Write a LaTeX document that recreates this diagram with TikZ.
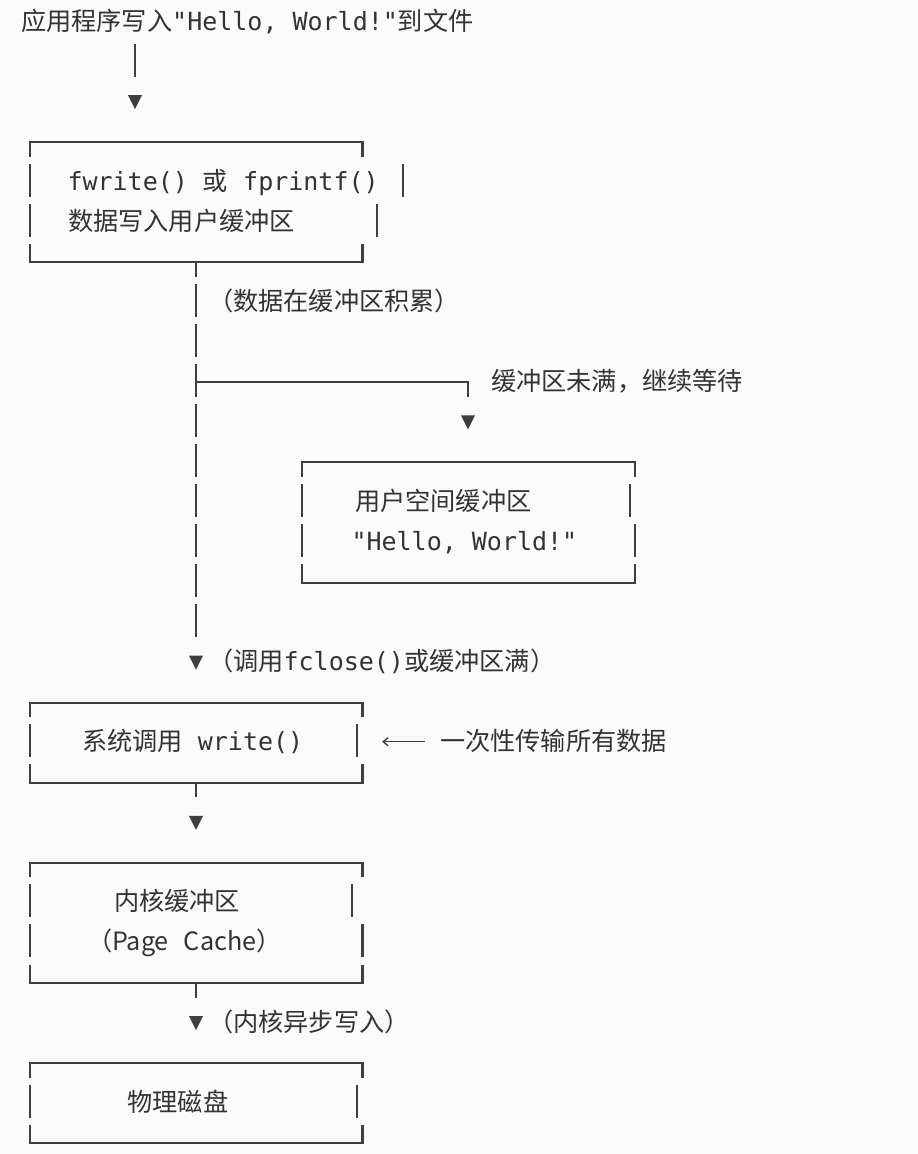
\documentclass[tikz,border=0pt]{standalone}
\usepackage{fontspec}
\setmonofont{DejaVu Sans Mono}
\newfontfamily\cjk{Noto Sans CJK SC}
\usetikzlibrary{arrows.meta}
\definecolor{bgc}{HTML}{FAFAFA}
\definecolor{ink}{HTML}{333333}
\definecolor{linec}{HTML}{3E3E3E}
\newcommand\mono[1]{{\fontsize{25}{30}\selectfont\ttfamily #1}}
\newcommand\zh[1]{{\fontsize{25.2}{30}\selectfont\cjk #1}}
\newcommand\tridown[2]{\fill[linec] ({#1-7},{#2-5.5}) -- ({#1+7},{#2-5.5}) -- (#1,{#2+8.5}) -- cycle;}
\newcommand\rowbar[2]{\draw[frame] (#1,{20.5+40.04*#2-17}) -- (#1,{20.5+40.04*#2+16});}
\begin{document}
\begin{tikzpicture}[x=1pt,y=-1pt,
  frame/.style={draw=linec,line width=2.1pt},
  txt/.style={anchor=base west,inner sep=0pt,outer sep=0pt,text=ink},
  arr/.style={draw=linec,line width=1.4pt,-{Straight Barb[length=5pt,width=8pt,line width=1.4pt]}}]
\fill[bgc] (0,0) rectangle (918,1154);
\useasboundingbox (0,0) rectangle (918,1154);

% title
\node[txt] (title) at (21,30) {\zh{应用程序写入}\mono{"Hello, World!"}\zh{到文件}};
\coordinate (s0a) at (135,43.5);
\coordinate (s0b) at (135,76.5);
\draw[frame] (s0a) -- (s0b);
\tridown{135}{100.6}

% box 1
\draw[frame] (30,156.6) -- (30,142.1) -- (362.5,142.1) -- (362.5,156.6);
\rowbar{30}{4}\rowbar{403}{4}
\rowbar{30}{5}\rowbar{377}{5}
\draw[frame] (30,243.7) -- (30,262.2) -- (362.5,262.2) -- (362.5,243.7);
\node[txt] (b1a) at (67.5,190.2) {\mono{fwrite() }\zh{或}\mono{ fprintf()}};
\node[txt] (b1b) at (68,230.2) {\zh{数据写入用户缓冲区}};
\coordinate (b1out) at (196,262.2);
\coordinate (b1stem) at (196,276.7);
\draw[frame] (b1out) -- (b1stem);

% main stem
\foreach \k in {7,8,10,11,12,13,14,15} {\rowbar{196}{\k}}
\draw[frame] (196,363.86) -- (196,396.86);
\coordinate (branch) at (196,382.36);
\coordinate (branchcorner) at (468,382.36);
\coordinate (branchend) at (468,396.86);
\draw[frame] (branch) -- (branchcorner) -- (branchend);
\tridown{468}{420.9}
\node[txt] (l1) at (208,310.3) {\zh{（数据在缓冲区积累）}};
\node[txt] (l2) at (491,390.4) {\zh{缓冲区未满，继续等待}};

% box 2
\draw[frame] (302,476.9) -- (302,462.4) -- (635,462.4) -- (635,476.9);
\rowbar{302}{12}\rowbar{630}{12}
\rowbar{302}{13}\rowbar{635}{13}
\draw[frame] (302,564.1) -- (302,582.6) -- (635,582.6) -- (635,564.1);
\node[txt] (b2a) at (355,510.5) {\zh{用户空间缓冲区}};
\node[txt] (b2b) at (351.5,550.5) {\mono{"Hello, World!"}};

\tridown{196}{661.1}
\node[txt] (l3) at (208,670.6) {\zh{（调用}\mono{fclose()}\zh{或缓冲区满）}};

% box 3
\draw[frame] (30,717.2) -- (30,702.7) -- (362.5,702.7) -- (362.5,717.2);
\rowbar{30}{18}\rowbar{357}{18}
\draw[frame] (30,764.3) -- (30,782.8) -- (362.5,782.8) -- (362.5,764.3);
\node[txt] (b3) at (82,750.7) {\zh{系统调用}\mono{ write()}};
\coordinate (a1) at (425,741.7);
\coordinate (a2) at (382,741.7);
\draw[arr] (a1) -- (a2);
\node[txt] (l4) at (440,750.7) {\zh{一次性传输所有数据}};
\coordinate (b3out) at (196,782.8);
\coordinate (b3stem) at (196,797.3);
\draw[frame] (b3out) -- (b3stem);
\tridown{196}{821.3}

% box 4
\draw[frame] (30,877.3) -- (30,862.8) -- (362.5,862.8) -- (362.5,877.3);
\rowbar{30}{22}\rowbar{352}{22}
\rowbar{30}{23}\rowbar{362.5}{23}
\draw[frame] (30,964.5) -- (30,983) -- (362.5,983) -- (362.5,964.5);
\node[txt] (b4a) at (114,910.9) {\zh{内核缓冲区}};
\node[txt] (b4b) at (87,950.9) {\zh{（Page}\mono{ }\zh{Cache）}};
\coordinate (b4out) at (196,983);
\coordinate (b4stem) at (196,997.5);
\draw[frame] (b4out) -- (b4stem);
\tridown{196}{1021.5}
\node[txt] (l5) at (208,1031) {\zh{（内核异步写入）}};

% box 5
\draw[frame] (30,1077.5) -- (30,1063) -- (362.5,1063) -- (362.5,1077.5);
\rowbar{30}{27}\rowbar{357}{27}
\draw[frame] (30,1124.6) -- (30,1143.1) -- (362.5,1143.1) -- (362.5,1124.6);
\node[txt] (b5) at (127.5,1111.1) {\zh{物理磁盘}};
\end{tikzpicture}
\end{document}
